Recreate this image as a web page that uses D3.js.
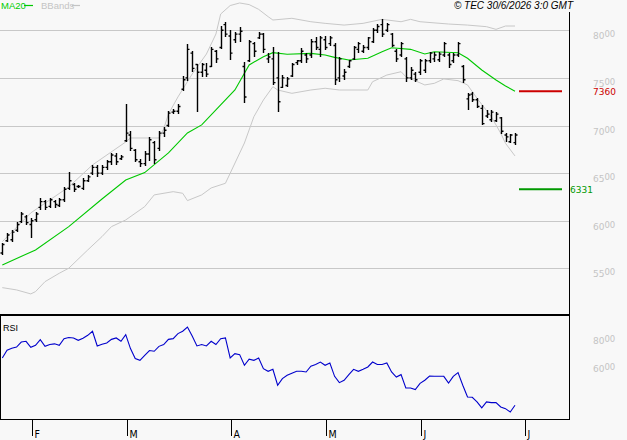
<!DOCTYPE html>
<html><head><meta charset="utf-8">
<script src="https://cdn.jsdelivr.net/npm/d3@7/dist/d3.min.js"></script>
<style>html,body{margin:0;padding:0;background:#f8f8f8;}svg{display:block;}</style>
</head><body><svg id="c" width="627" height="440"></svg>
<script>
// ---- data (one entry per trading day, 23 Jan .. 29 Jun 2026) ----
const opens=[5660,5790,5800,5900,5990,6040,5960,6010,6140,6200,6150,6200,6160,6220,6340,6380,6360,6340,6420,6500,6560,6500,6560,6620,6680,6650,6840,6900,6740,6620,6600,6700,6820,6760,6920,7000,7140,7150,7380,7500,7760,7640,7560,7580,7620,7780,7820,8060,7940,7900,7960,7620,7680,7860,7920,7960,7700,7700,7500,7400,7420,7520,7660,7680,7740,7740,7880,7800,7900,7860,7840,7500,7520,7620,7700,7800,7780,7820,7880,8000,8060,8000,7960,7780,7740,7700,7500,7540,7560,7580,7680,7700,7690,7740,7740,7680,7740,7620,7280,7330,7270,7180,7100,7060,7050,7080,6900,6830,6820];
const highs=[5766,5871,5903,5987,6092,6060,6029,6092,6239,6218,6239,6218,6239,6354,6512,6397,6376,6449,6480,6586,6586,6586,6638,6712,6712,6691,7226,6943,6754,6649,6733,6880,6838,6943,6985,7153,7174,7226,7520,7856,7782,7646,7656,7656,7824,7793,8045,8087,8003,7982,8035,7667,7898,7877,7982,7972,7762,7824,7772,7530,7510,7656,7688,7814,7762,7908,7930,7940,7940,7940,7866,7720,7594,7688,7835,7877,7845,7930,8024,8066,8118,8076,7972,7804,7877,7720,7614,7562,7698,7698,7772,7772,7772,7877,7762,7762,7877,7636,7342,7352,7289,7216,7163,7163,7142,7090,6922,6911,6922];
const lows=[5640,5777,5777,5882,5976,5955,5819,5987,6113,6113,6134,6134,6145,6197,6323,6302,6344,6323,6407,6480,6460,6480,6533,6586,6586,6638,6827,6733,6617,6565,6575,6628,6596,6733,6880,6985,7121,7121,7362,7468,7562,7142,7510,7510,7614,7656,7804,7930,7688,7866,7877,7236,7667,7720,7908,7762,7656,7426,7142,7394,7404,7510,7636,7656,7656,7709,7793,7720,7793,7835,7426,7457,7478,7604,7688,7762,7762,7793,7866,7972,7930,7982,7824,7667,7720,7457,7478,7457,7530,7552,7656,7667,7667,7720,7604,7656,7720,7447,7163,7247,7184,7006,7079,7037,7037,6911,6827,6817,6796];
const closes=[5750,5850,5880,5960,6070,5980,6000,6070,6200,6140,6220,6170,6220,6330,6420,6330,6360,6420,6460,6560,6500,6560,6620,6690,6620,6670,6920,6760,6640,6600,6700,6850,6640,6920,6950,7130,7150,7200,7480,7800,7600,7560,7640,7540,7800,7700,8000,7960,7760,7960,7990,7300,7880,7780,7960,7800,7720,7450,7250,7500,7490,7640,7680,7780,7700,7880,7820,7920,7820,7920,7480,7700,7560,7680,7820,7860,7820,7920,8000,8040,7960,8060,7840,7700,7860,7500,7580,7480,7680,7680,7760,7740,7750,7860,7640,7740,7860,7480,7320,7270,7200,7020,7120,7140,7120,6940,6880,6900,6900];
// [bar index, value]
const ma20=[[0,5535],[7,5693],[14,5938],[21,6228],[26,6428],[30,6505],[35,6712],[39,6922],[42,7006],[45,7163],[49,7373],[52,7636],[55,7723],[57,7765],[60,7748],[65,7758],[68,7740],[70,7716],[73,7688],[77,7706],[80,7775],[82,7817],[86,7800],[89,7751],[91,7775],[96,7765],[98,7706],[101,7583],[104,7478],[106,7415],[108,7360]];
const bbUpper=[[0,5780],[6,6082],[14,6354],[19,6586],[26,6827],[27,6869],[33,6869],[34,6964],[35,7121],[37,7300],[40,7541],[43,7751],[45,7961],[46,8171],[48,8260],[50,8287],[52,8270],[54,8220],[56,8143],[57,8108],[61,8126],[65,8090],[68,8073],[72,8055],[76,8073],[80,8115],[84,8090],[86,8115],[88,8090],[94,8066],[98,8055],[102,8038],[104,8010],[106,8045],[108,8045]];
const bbLower=[[0,5297],[3,5273],[6,5231],[7,5255],[9,5360],[12,5448],[14,5501],[18,5693],[21,5833],[23,5938],[26,6008],[30,6148],[32,6271],[36,6305],[38,6288],[39,6211],[42,6271],[44,6344],[47,6393],[48,6498],[51,6816],[53,7093],[55,7268],[57,7408],[58,7373],[61,7338],[65,7373],[68,7391],[71,7373],[77,7373],[78,7460],[81,7530],[84,7565],[85,7513],[89,7426],[91,7443],[93,7489],[96,7471],[98,7426],[100,7286],[103,7093],[105,6918],[106,6813],[108,6680]];
const rsi=[63.8,69.3,70.7,71.6,75.2,75.7,71.4,72.9,76.9,72.1,73.4,73.9,72.9,77.6,78.4,78.1,76.4,77.9,80,82.9,72.4,73.6,74.5,77.1,78.1,75.7,80.5,70.5,63.4,62.1,65.7,69.1,68.6,72.1,73.4,77.1,77.6,81.2,82.9,85.9,79.5,72.4,73.4,72.4,75.7,73.4,77.6,78.1,63.8,66.9,66.2,58.6,62.9,62.1,63.8,56.2,54.3,55.7,44.3,49.1,51.4,52.9,54.3,54.3,53.8,57.9,59.1,60.9,58.6,60.2,50.7,46.2,47.9,51.9,55.7,54.3,55.7,57.4,60.9,59.1,59.1,60.2,53.8,50.2,51.9,42.4,42.4,41.2,45.7,47.9,50.9,50.7,50.7,50.7,45.9,50.7,53.4,44.3,35.9,35.7,32.4,28.1,32.4,31.9,31.9,28.8,27.6,25.2,30];
const priceTicks=[5500,6000,6500,7000,7500,8000];
const rsiTicks=[60,80];
const monthLabels=["F","M","A","M","J","J"];
const monthStartBars=[6,26,48,68,88,110];
const levelValues=[7360,6331];
const levelLabels=["7360","6331"];
const legendLabels=["MA20","BBands"];
const stamp="© TEC 30/6/2026 3:0 GMT";

// ---- drawing ----
const svg=d3.select("#c");
const W=627,H=440,RIGHT=569.5;
const x=d3.scaleLinear().domain([0,108]).range([2.3,515]);
const y=d3.scaleLinear().domain([5500,8000]).range([268.3,30.3]);
const yr=d3.scaleLinear().domain([60,80]).range([363.3,335.3]);
const FONT="'Liberation Sans', Arial, sans-serif";
const AXF="'DejaVu Sans', sans-serif";

svg.append("rect").attr("width",W).attr("height",H).attr("fill","#f8f8f8");

// grid
svg.append("g").selectAll("line").data(priceTicks).join("line")
  .attr("x1",0).attr("x2",RIGHT).attr("y1",d=>Math.round(y(d))+0.5).attr("y2",d=>Math.round(y(d))+0.5)
  .attr("stroke","#c8c8c8").attr("stroke-width",1);

// right axis labels (price)
function supLabel(g,main,yy){
  const t=g.append("text").attr("x",593).attr("y",yy).attr("fill","#c4c4c4")
    .attr("font-family",AXF).attr("font-size",9);
  t.append("tspan").text(main);
  t.append("tspan").attr("font-size",8.5).attr("dy",-2).text("00");
}
const axg=svg.append("g");
priceTicks.forEach(v=>supLabel(axg,String(v).slice(0,-2),y(v)+9));
rsiTicks.forEach(v=>supLabel(axg,String(v),yr(v)+9));

// bollinger bands
const ln=d3.line().x(d=>x(d[0])).y(d=>y(d[1]));
svg.append("path").datum(bbUpper).attr("d",ln).attr("fill","none").attr("stroke","#c8c8c8").attr("stroke-width",1);
svg.append("path").datum(bbLower).attr("d",ln).attr("fill","none").attr("stroke","#c8c8c8").attr("stroke-width",1);
// MA20
svg.append("path").datum(ma20).attr("d",ln).attr("fill","none").attr("stroke","#00c800").attr("stroke-width",1.1);

// OHLC bars
svg.append("g").selectAll("path").data(opens).join("path")
  .attr("d",(o,i)=>{
    const xx=Math.round(x(i))+0.5;
    return `M${xx},${y(highs[i])}V${y(lows[i])}M${xx-2},${y(o)}H${xx}M${xx},${y(closes[i])}H${xx+2}`;
  })
  .attr("fill","none").attr("stroke","#000").attr("stroke-width",1.4);

// level lines
const levelColors=["#cc0000","#009900"];
const lx0=x.range()[1]+4, lx1=x.range()[1]+47;
levelValues.forEach((v,k)=>{
  svg.append("line").attr("x1",lx0).attr("x2",lx1).attr("y1",y(v)).attr("y2",y(v))
    .attr("stroke",levelColors[k]).attr("stroke-width",2);
});
svg.append("text").attr("x",593).attr("y",y(levelValues[0])+4).attr("fill",levelColors[0])
  .attr("font-family",AXF).attr("font-size",9).text(levelLabels[0]);
svg.append("text").attr("x",570).attr("y",y(levelValues[1])+4).attr("fill",levelColors[1])
  .attr("font-family",AXF).attr("font-size",9).text(levelLabels[1]);

// panel borders
svg.append("line").attr("x1",RIGHT).attr("x2",RIGHT).attr("y1",12).attr("y2",315).attr("stroke","#000");
svg.append("line").attr("x1",0).attr("x2",RIGHT+0.5).attr("y1",315).attr("y2",315).attr("stroke","#000").attr("stroke-width",2);
svg.append("rect").attr("x",0.5).attr("y",315).attr("width",RIGHT-0.5).attr("height",104.5)
  .attr("fill","none").attr("stroke","#000");

// RSI
svg.append("path").datum(rsi).attr("d",d3.line().x((d,i)=>x(i)).y(d=>yr(d)))
  .attr("fill","none").attr("stroke","#0000cc").attr("stroke-width",1.1);
svg.append("text").attr("x",3).attr("y",331).attr("font-family",FONT).attr("font-size",9).attr("fill","#000").text("RSI");

// month axis
const mg=svg.append("g").selectAll("g").data(monthStartBars).join("g")
  .attr("transform",d=>`translate(${Math.round(x(d))+1.5},0)`);
mg.append("line").attr("y1",420).attr("y2",436).attr("stroke","#000");
mg.append("text").attr("x",2).attr("y",438).attr("font-family","'Liberation Sans Narrow','DejaVu Sans Condensed',sans-serif")
  .attr("font-size",10.5).attr("fill","#000").text((d,i)=>monthLabels[i]);

// legend
svg.append("text").attr("x",1).attr("y",9).attr("fill","#00cc00").attr("font-family",FONT).attr("font-size",9.5).text(legendLabels[0]);
svg.append("line").attr("x1",24).attr("x2",33).attr("y1",5.5).attr("y2",5.5).attr("stroke","#00cc00").attr("stroke-width",1.2);
svg.append("text").attr("x",41).attr("y",9).attr("fill","#c4c4c4").attr("font-family",FONT).attr("font-size",9.5).text(legendLabels[1]);
svg.append("line").attr("x1",72).attr("x2",80).attr("y1",5.5).attr("y2",5.5).attr("stroke","#c4c4c4").attr("stroke-width",1.2);

// stamp
svg.append("text").attr("x",573).attr("y",9).attr("text-anchor","end").attr("font-family",FONT)
  .attr("font-style","italic").attr("font-size",10).attr("fill","#000").text(stamp);
</script></body></html>
